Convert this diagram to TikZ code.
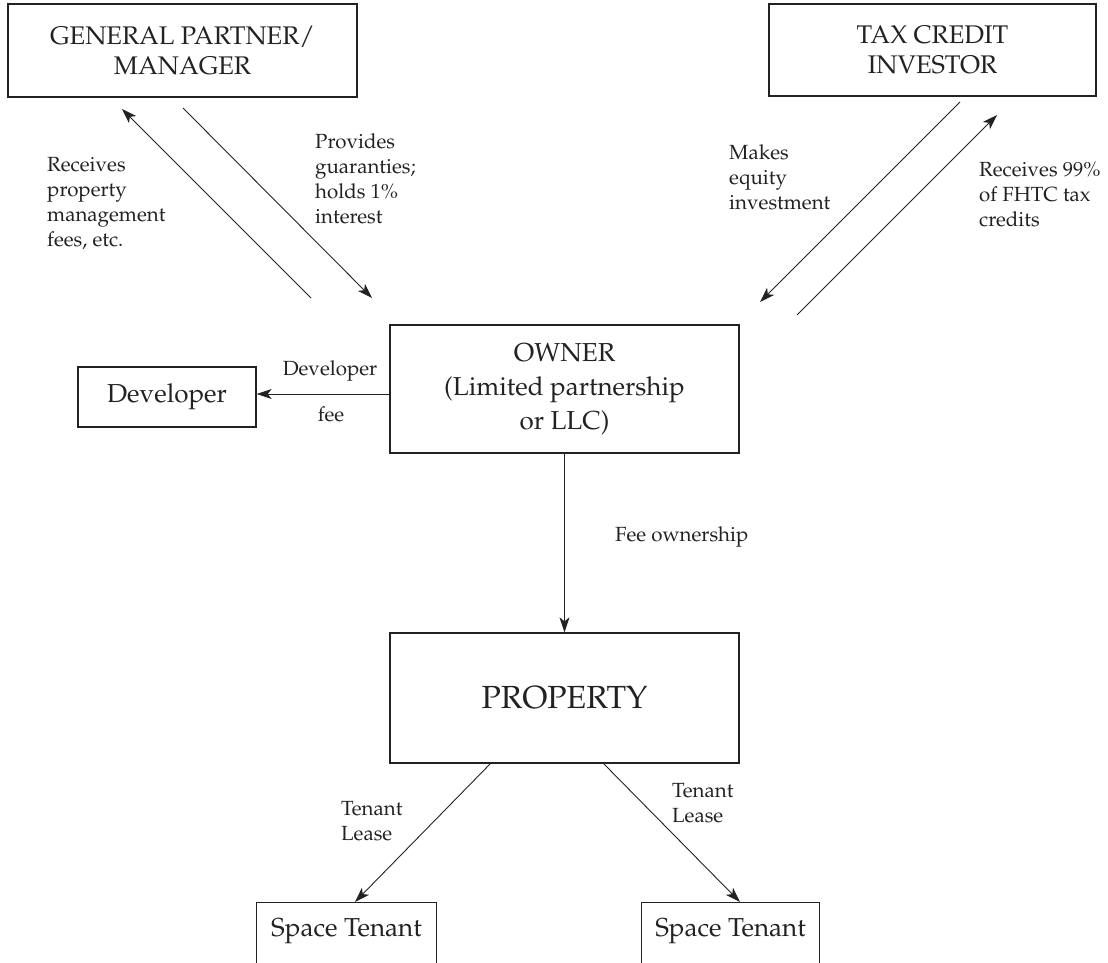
\documentclass[tikz,border=0pt]{standalone}
\usepackage[T1]{fontenc}
\usepackage{mathpazo}
\usetikzlibrary{arrows.meta}
\definecolor{ink}{HTML}{222222}
\tikzset{
  boxnode/.style={draw=ink, line width=1.3pt, inner sep=0pt, text=ink, align=center},
  openbox/.style={inner sep=0pt, text=ink, align=center},
  boxline/.style={draw=ink, line width=1.3pt},
  lbl/.style={inner sep=0pt, text=ink, align=left, font=\fontsize{20.5}{25}\selectfont},
  conn/.style={draw=ink, line width=0.9pt, -{Stealth[length=15pt,width=10pt,inset=4pt]}}
}
\begin{document}
\begin{tikzpicture}[x=1pt,y=-1pt]
\useasboundingbox (0,0) rectangle (1108,963);
% boxes
\node[boxnode, minimum width=349pt, minimum height=93pt, font=\fontsize{25.5}{30}\selectfont] (gp) at (182.5,50.5) {GENERAL PARTNER/\\MANAGER};
\node[boxnode, minimum width=327pt, minimum height=92pt, font=\fontsize{25.5}{30}\selectfont] (tci) at (932.5,50) {TAX CREDIT\\INVESTOR};
\node[boxnode, minimum width=349pt, minimum height=128pt, font=\fontsize{26}{34}\selectfont] (owner) at (564.5,389) {OWNER\\(Limited partnership\\or LLC)};
\node[boxnode, minimum width=178pt, minimum height=60pt, font=\fontsize{26}{30}\selectfont] (dev) at (167,397) {Developer};
\node[boxnode, minimum width=349pt, minimum height=130pt, font=\fontsize{32}{36}\selectfont] (prop) at (564.5,698) {PROPERTY};
\node[openbox, minimum width=179pt, minimum height=57pt, font=\fontsize{26}{30}\selectfont] (st1) at (346.5,931.5) {Space Tenant};
\node[openbox, minimum width=177pt, minimum height=57pt, font=\fontsize{26}{30}\selectfont] (st2) at (730.5,931.5) {Space Tenant};
% tenant boxes run past the lower edge of the picture
\draw[boxline] ([yshift=-12pt]st1.south west) -- (st1.north west) -- (st1.north east) -- ([yshift=-12pt]st1.south east);
\draw[boxline] ([yshift=-12pt]st2.south west) -- (st2.north west) -- (st2.north east) -- ([yshift=-12pt]st2.south east);
% free ends of the diagonal connectors
\coordinate (gpA) at (311,298);
\coordinate (gpAh) at (122,109);
\coordinate (gpB) at (183,108);
\coordinate (gpBh) at (372,298);
\coordinate (tcA) at (960,102);
\coordinate (tcAh) at (760,302);
\coordinate (tcB) at (797,315);
\coordinate (tcBh) at (997,115);
\coordinate (pL) at (491,763);
\coordinate (pLh) at (355,902);
\coordinate (pR) at (603,763);
\coordinate (pRh) at (740,902);
% connectors
\draw[conn] (gpA) -- (gpAh);
\draw[conn] (gpB) -- (gpBh);
\draw[conn] (tcA) -- (tcAh);
\draw[conn] (tcB) -- (tcBh);
\draw[conn] (owner.west |- 0,394) -- (dev.east |- 0,394);
\draw[conn] (owner.south) -- (prop.north);
\draw[conn] (pL) -- (pLh);
\draw[conn] (pR) -- (pRh);
% labels
\node[lbl, anchor=west] (l1) at (47,203.5) {Receives\\property\\management\\fees, etc.};
\node[lbl, anchor=west] (l2) at (315,178.5) {Provides\\guaranties;\\holds 1\%\\interest};
\node[lbl, anchor=west] (l3) at (729,177) {Makes\\equity\\investment};
\node[lbl, anchor=west] (l4) at (979,195) {Receives 99\%\\of FHTC tax\\credits};
\node[lbl] (l5) at (330,371) {Developer};
\node[lbl] (l6) at (331,414) {fee};
\node[lbl, anchor=west] (l7) at (615,537) {Fee ownership};
\node[lbl, anchor=west] (l8) at (341,821) {Tenant\\Lease};
\node[lbl, anchor=west] (l9) at (672,803.5) {Tenant\\Lease};
\end{tikzpicture}
\end{document}
